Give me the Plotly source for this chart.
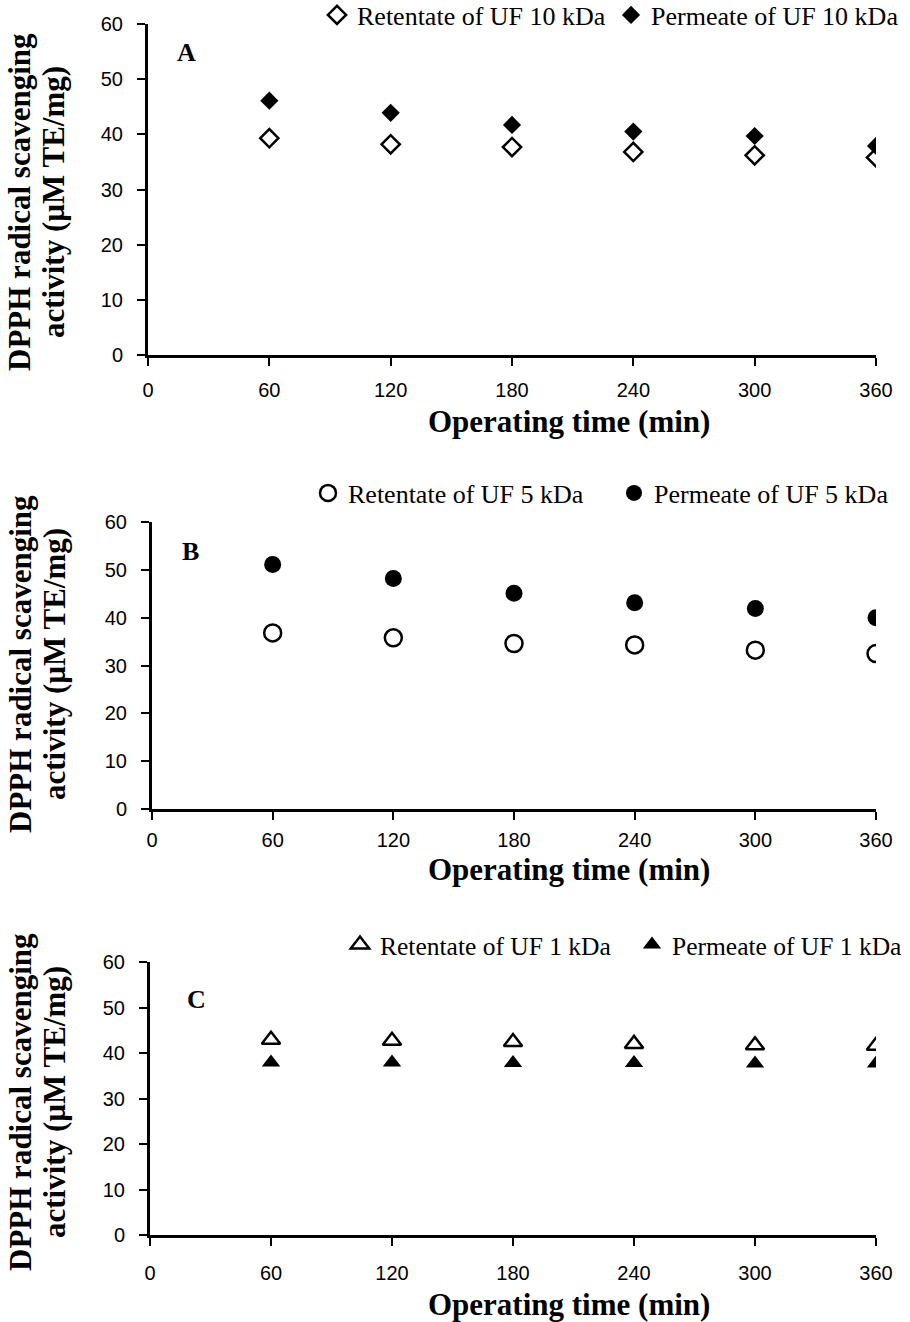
import plotly.graph_objects as go

time_min = [60, 120, 180, 240, 300, 360]

ret_10 = [39.3, 38.2, 37.7, 36.8, 36.2, 35.8]
perm_10 = [46.1, 43.9, 41.7, 40.5, 39.7, 37.9]

ret_5 = [36.8, 35.8, 34.6, 34.3, 33.2, 32.5]
perm_5 = [51.1, 48.2, 45.1, 43.1, 41.9, 40.0]

ret_1 = [42.9, 42.7, 42.4, 42.0, 41.7, 41.6]
perm_1 = [37.9, 37.9, 37.8, 37.8, 37.7, 37.7]

x_ticks = [0, 60, 120, 180, 240, 300, 360]
y_ticks = [0, 10, 20, 30, 40, 50, 60]
panel_labels = ["A", "B", "C"]
legend_names = [
    ("Retentate of UF 10 kDa", "Permeate of UF 10 kDa"),
    ("Retentate of UF 5 kDa", "Permeate of UF 5 kDa"),
    ("Retentate of UF 1 kDa", "Permeate of UF 1 kDa"),
]
x_title = "Operating time (min)"
y_title_lines = ["DPPH radical scavenging", "activity (µM TE/mg)"]

W, H = 910, 1322
TICK_FONT = "Liberation Sans, Arial, sans-serif"
SERIF = "Liberation Serif, Times New Roman, serif"

# pixel layout of the three panels: (left, right, top, bottom)
panels = [(148, 876, 24, 355), (152, 876, 522, 809), (150, 876, 962, 1235)]
legend_pos = [(317, 15, 249, 26), (308, 493, 261, 26), (340, 945, 247, 25.5)]   # (left, centre y, entry width, font)
label_pos = [(186, 52), (190, 551), (196, 999)]
xlabel_standoff = [7, 3, 10]
xtitle_y = [421, 869, 1304]
xtitle_x = 569
ytitle_x = [20, 54]
ytitle_y = [202, 664, 1102]

series = [(ret_10, perm_10, "diamond", 14), (ret_5, perm_5, "circle", 17), (ret_1, perm_1, "triangle-up", 16)]

fig = go.Figure()
layout = dict(
    template="none",
    width=W, height=H, margin=dict(l=0, r=0, t=0, b=0, autoexpand=False),
    plot_bgcolor="white", paper_bgcolor="white", showlegend=True,
)
annotations = []
for i, ((l, r, t, b), (ret, perm, sym, msize)) in enumerate(zip(panels, series)):
    n = "" if i == 0 else str(i + 1)
    leg = "legend" if i == 0 else f"legend{i+1}"
    fig.add_trace(go.Scatter(
        x=time_min, y=ret, mode="markers", name=legend_names[i][0],
        xaxis="x" + n, yaxis="y" + n, legend=leg,
        marker=dict(symbol=sym + "-open", size=msize, color="black", line=dict(width=2.5, color="black")),
    ))
    fig.add_trace(go.Scatter(
        x=time_min, y=perm, mode="markers", name=legend_names[i][1],
        xaxis="x" + n, yaxis="y" + n, legend=leg,
        marker=dict(symbol=sym, size=msize, color="black", line=dict(width=0)),
    ))
    layout["xaxis" + n] = dict(
        domain=[l / W, r / W], anchor="y" + n, range=[0, 360], tickvals=x_ticks,
        showline=True, linecolor="black", linewidth=3, ticks="outside", ticklen=8, tickwidth=2,
        tickcolor="black", showgrid=False, zeroline=False, automargin=False,
        tickfont=dict(family=TICK_FONT, size=20, color="black"), ticklabelstandoff=xlabel_standoff[i],
    )
    layout["yaxis" + n] = dict(
        domain=[1 - b / H, 1 - t / H], anchor="x" + n, range=[0, 60], tickvals=y_ticks,
        showline=True, linecolor="black", linewidth=3, ticks="outside", ticklen=8, tickwidth=2,
        tickcolor="black", showgrid=False, zeroline=False, automargin=False,
        tickfont=dict(family=TICK_FONT, size=20, color="black"), ticklabelstandoff=10,
    )
    lx, ly, ew, lf = legend_pos[i]
    layout[leg] = dict(
        orientation="h", x=lx / W, xanchor="left", y=1 - ly / H, yanchor="middle",
        font=dict(family=SERIF, size=lf, color="black"), bgcolor="rgba(0,0,0,0)",
        entrywidth=ew, entrywidthmode="pixels", traceorder="normal",
    )
    annotations.append(dict(
        text=panel_labels[i], x=label_pos[i][0] / W, y=1 - label_pos[i][1] / H, xref="paper", yref="paper",
        xanchor="center", yanchor="middle",
        showarrow=False, font=dict(family=SERIF, size=26, color="black", weight="bold"),
    ))
    annotations.append(dict(
        text=x_title, x=xtitle_x / W, y=1 - xtitle_y[i] / H, xref="paper", yref="paper",
        xanchor="center", yanchor="middle",
        showarrow=False, font=dict(family=SERIF, size=31, color="black", weight="bold"),
    ))
    for k, line in enumerate(y_title_lines):
        annotations.append(dict(
            text=line, x=ytitle_x[k] / W, y=1 - ytitle_y[i] / H, xref="paper", yref="paper",
            xanchor="center", yanchor="middle", textangle=-90,
            showarrow=False, font=dict(family=SERIF, size=31, color="black", weight="bold"),
        ))
layout["annotations"] = annotations
fig.update_layout(**layout)
fig.write_html("out.html")
